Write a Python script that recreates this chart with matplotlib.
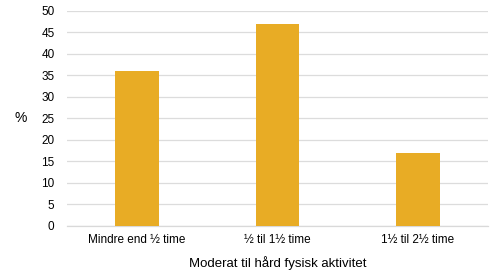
import matplotlib
matplotlib.use("Agg")
import matplotlib.pyplot as plt

categories = ["Mindre end ½ time", "½ til 1½ time", "1½ til 2½ time"]
values = [36.0, 46.8, 17.0]
yticks = [0, 5, 10, 15, 20, 25, 30, 35, 40, 45, 50]

plt.rcParams['font.family'] = ['Liberation Sans', 'DejaVu Sans']

fig = plt.figure(figsize=(5, 2.75), dpi=100)
ax = fig.add_axes([0.134, 0.179, 0.842, 0.782])
x = range(len(categories))
ax.bar(x, values, width=0.31, color="#E8AC25", zorder=3)
ax.set_xlim(-0.5, 2.5)
ax.set_ylim(0, 50)
ax.set_yticks(yticks)
ax.set_xticks(list(x))
ax.set_xticklabels(categories, fontsize=8.5)
ax.tick_params(axis='y', labelsize=8.5, length=0, pad=9)
ax.tick_params(axis='x', length=0, pad=6)
ax.grid(axis='y', color='#dcdcdc', linewidth=0.9, zorder=0)
for s in ['top', 'right', 'left']:
    ax.spines[s].set_visible(False)
ax.spines['bottom'].set_color('#d9d9d9')
ax.spines['bottom'].set_linewidth(0.9)
ax.set_xlabel("Moderat til hård fysisk aktivitet", fontsize=9.5, labelpad=7)
ax.set_ylabel("%", fontsize=10, rotation=0, labelpad=15, va='center')
fig.savefig("out.png", dpi=100)
